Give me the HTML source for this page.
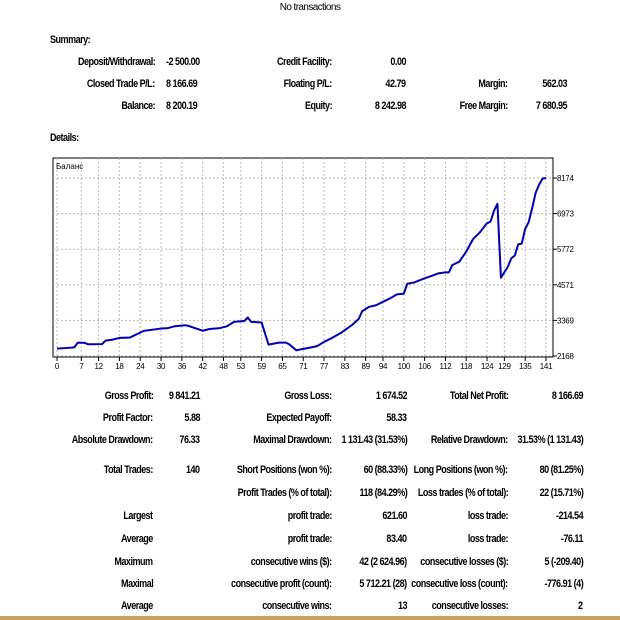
<!DOCTYPE html>
<html><head><meta charset="utf-8">
<style>
body{margin:0;width:620px;height:620px;background:#fff;position:relative;overflow:hidden;font-family:"Liberation Sans",sans-serif;}
.t{position:absolute;font-size:11px;font-weight:bold;letter-spacing:-0.6px;white-space:nowrap;line-height:12px;color:#000;transform:scaleX(0.82);}
.r{transform-origin:right center;}
.l{transform-origin:left center;}
</style></head>
<body>
<div class="t" style="left:0;width:620px;text-align:center;top:2px;font-weight:normal;transform:none;font-size:10px">No transactions</div>
<div class="t l" style="left:50px;top:34px">Summary:</div>
<div class="t l" style="left:50px;top:132px">Details:</div>
<div id="txt"></div>
<svg id="chart" width="620" height="620" style="position:absolute;left:0;top:0;pointer-events:none"></svg>
<div style="position:absolute;left:0;top:616px;width:620px;height:4px;background:#c9a15c"></div>
<script>
const trades=[0,3,5,6,8,9,13,14,16,18,21,23,25,30,32,34,37,38,42,44,47,49,51,54,55,56,59,61,64,66,67,69,71,73,75,77,79,82,85,87,88,90,92,94,96,98,100,101,103,106,108,110,112,113,114,116,118,120,122,124,125,126,127,128,130,131,132,133,134,135,136,137,138,139,140,141];
const balance=[2416,2440,2460,2620,2610,2563,2570,2687,2720,2778,2790,2902,3015,3094,3110,3173,3207,3180,3021,3080,3110,3170,3320,3350,3467,3320,3297,2552,2620,2620,2560,2360,2410,2450,2500,2642,2760,2958,3207,3420,3681,3827,3880,3997,4110,4246,4270,4607,4650,4788,4870,4957,4990,4990,5239,5350,5690,6119,6350,6650,6700,7068,7305,4810,5180,5465,5560,5940,5960,6458,6684,7150,7666,7950,8152,8174];
const xTicks=[0,7,12,18,24,30,36,42,48,53,59,65,71,77,83,89,94,100,106,112,118,124,129,135,141];
const yTicks=[2168,3369,4571,5772,6973,8174];
const NS="http://www.w3.org/2000/svg";
const svg=document.getElementById('chart');
const L=53,R=553,T=158,B=357;
const xs=v=>57+v*(546-57)/141;
const ys=v=>356-(v-2168)*(356-178)/(8174-2168);
function mk(tag,attrs){const e=document.createElementNS(NS,tag);for(const k in attrs)e.setAttribute(k,attrs[k]);svg.appendChild(e);return e;}
let e=mk('rect',{x:L,y:T,width:R-L,height:B-T,fill:'#fff',stroke:'#000','stroke-width':1});


xTicks.forEach(v=>{
  const g=mk('line',{x1:xs(v),x2:xs(v),y1:T,y2:B,stroke:'#bbbbbb','stroke-dasharray':'2,2'});
  
  
  const tk=mk('line',{x1:xs(v),x2:xs(v),y1:B,y2:B+4,stroke:'#000'});
  
  
  const t=mk('text',{x:xs(v),y:B+12,'text-anchor':'middle','font-size':8,'font-family':'Liberation Sans, sans-serif','letter-spacing':'-0.3'});
  t.textContent=v;
  
  
});
yTicks.forEach(v=>{
  const g=mk('line',{x1:L,x2:R,y1:ys(v),y2:ys(v),stroke:'#bbbbbb','stroke-dasharray':'2,2'});
  
  
  const tk=mk('line',{x1:R,x2:R+4,y1:ys(v),y2:ys(v),stroke:'#000'});
  
  
  const t=mk('text',{x:R+4,y:ys(v)+3,'font-size':8,'font-family':'Liberation Sans, sans-serif','letter-spacing':'-0.3'});
  t.textContent=v;
  
  
});
const lbl=mk('text',{x:L+3,y:T+11,'font-size':8,'font-family':'Liberation Sans, sans-serif'});
lbl.textContent='Баланс';


const line=mk('polyline',{points:trades.map((t,i)=>xs(t)+','+ys(balance[i])).join(' '),fill:'none',stroke:'#0000b4','stroke-width':2,'stroke-linejoin':'round'});



const rows=[
 ['Deposit/Withdrawal:',155,62,'r','deposit-label'],['-2 500.00',166,62,'l','deposit-value'],
 ['Credit Facility:',332,62,'r','credit-label'],['0.00',406,62,'r','credit-value'],
 ['Closed Trade P/L:',155,84,'r','closed-pl-label'],['8 166.69',166,84,'l','closed-pl-value'],
 ['Floating P/L:',332,84,'r','floating-label'],['42.79',406,84,'r','floating-value'],
 ['Margin:',508,84,'r','margin-label'],['562.03',567,84,'r','margin-value'],
 ['Balance:',155,106,'r','balance-label'],['8 200.19',166,106,'l','balance-value'],
 ['Equity:',332,106,'r','equity-label'],['8 242.98',406,106,'r','equity-value'],
 ['Free Margin:',508,106,'r','free-margin-label'],['7 680.95',567,106,'r','free-margin-value'],
 ['Gross Profit:',153,396,'r','gross-profit-label'],['9 841.21',200,396,'r','gross-profit-value'],
 ['Gross Loss:',332,396,'r','gross-loss-label'],['1 674.52',407,396,'r','gross-loss-value'],
 ['Total Net Profit:',508,396,'r','net-profit-label'],['8 166.69',583,396,'r','net-profit-value'],
 ['Profit Factor:',153,418,'r','profit-factor-label'],['5.88',200,418,'r','profit-factor-value'],
 ['Expected Payoff:',332,418,'r','payoff-label'],['58.33',407,418,'r','payoff-value'],
 ['Absolute Drawdown:',153,440,'r','abs-dd-label'],['76.33',200,440,'r','abs-dd-value'],
 ['Maximal Drawdown:',332,440,'r','max-dd-label'],['1 131.43 (31.53%)',407,440,'r','max-dd-value'],
 ['Relative Drawdown:',508,440,'r','rel-dd-label'],['31.53% (1 131.43)',583,440,'r','rel-dd-value'],
 ['Total Trades:',153,470,'r','total-trades-label'],['140',200,470,'r','total-trades-value'],
 ['Short Positions (won %):',332,470,'r','short-label'],['60 (88.33%)',407,470,'r','short-value'],
 ['Long Positions (won %):',508,470,'r','long-label'],['80 (81.25%)',583,470,'r','long-value'],
 ['Profit Trades (% of total):',332,493,'r','profit-trades-label'],['118 (84.29%)',407,493,'r','profit-trades-value'],
 ['Loss trades (% of total):',508,493,'r','loss-trades-label'],['22 (15.71%)',583,493,'r','loss-trades-value'],
 ['Largest',153,516,'r','largest-label'],['profit trade:',332,516,'r','largest-profit-label'],['621.60',407,516,'r','largest-profit-value'],
 ['loss trade:',508,516,'r','largest-loss-label'],['-214.54',583,516,'r','largest-loss-value'],
 ['Average',153,539,'r','average-label'],['profit trade:',332,539,'r','avg-profit-label'],['83.40',407,539,'r','avg-profit-value'],
 ['loss trade:',508,539,'r','avg-loss-label'],['-76.11',583,539,'r','avg-loss-value'],
 ['Maximum',153,562,'r','maximum-label'],['consecutive wins ($):',332,562,'r','max-wins-label'],['42 (2 624.96)',407,562,'r','max-wins-value'],
 ['consecutive losses ($):',508,562,'r','max-losses-label'],['5 (-209.40)',583,562,'r','max-losses-value'],
 ['Maximal',153,584,'r','maximal-label'],['consecutive profit (count):',332,584,'r','max-profit-label'],['5 712.21 (28)',407,584,'r','max-profit-value'],
 ['consecutive loss (count):',508,584,'r','max-loss-label'],['-776.91 (4)',583,584,'r','max-loss-value'],
 ['Average',153,606,'r','average2-label'],['consecutive wins:',332,606,'r','avg-wins-label'],['13',407,606,'r','avg-wins-value'],
 ['consecutive losses:',508,606,'r','avg-losses-label'],['2',583,606,'r','avg-losses-value']
];
const box=document.getElementById('txt');
rows.forEach(r=>{
  const d=document.createElement('div');
  d.className='t '+r[3];
  d.textContent=r[0];
  d.style.top=(r[2]-6)+'px';
  if(r[3]==='r'){d.style.right=(620-r[1])+'px';}else{d.style.left=r[1]+'px';}
  
  
  box.appendChild(d);
});
</script>
</body></html>
